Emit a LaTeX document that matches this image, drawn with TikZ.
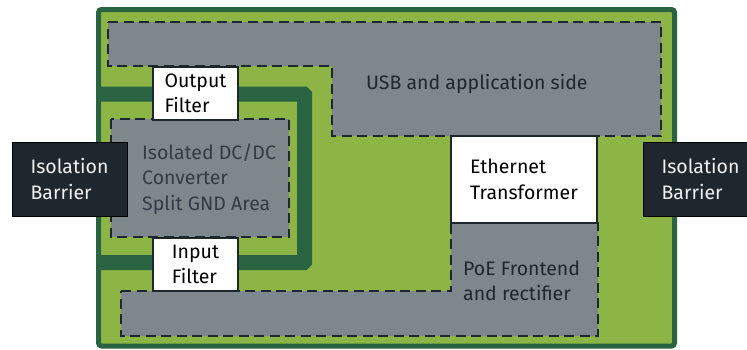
\documentclass[tikz,border=0pt]{standalone}
\usepackage{fontspec}
\setmainfont{Fira Sans}
\usetikzlibrary{positioning}
\definecolor{boardgreen}{HTML}{8CB545}
\definecolor{tracegreen}{HTML}{2A6341}
\definecolor{areagray}{HTML}{7E878C}
\definecolor{barrierdark}{HTML}{1F272E}
\definecolor{dimtext}{HTML}{333C44}
\tikzset{
  zone/.style={fill=areagray,draw=barrierdark,line width=2.2pt,dash pattern=on 10pt off 5.5pt},
  partbox/.style={fill=white,draw=barrierdark,line width=1.2pt,inner sep=0pt,align=left,text=black},
  barrierbox/.style={fill=barrierdark,draw=black,line width=1pt,inner sep=0pt,align=left,
    minimum width=115pt,minimum height=74pt,text=white!88!gray},
  zonetext/.style={inner sep=0pt,align=left}
}

\begin{document}
\begin{tikzpicture}[x=1pt,y=-1pt,font=\fontsize{19.5}{25.5}\selectfont]
    \clip (0,0) rectangle (747,349);
    % board and split ground trace
    \draw[fill=boardgreen,draw=tracegreen,line width=5pt,rounded corners=3pt] (98.5,9.5) rectangle (674.5,346);
    \draw[tracegreen,line width=15pt,rounded corners=1pt] (98,94) -- (304.5,94) -- (304.5,262.5) -- (98,262.5);
    % areas
    \draw[zone] (108,22) -- (661,22) -- (661,136) -- (332,136) -- (332,66) -- (108,66) -- cycle;
    \draw[zone] (111,119) rectangle (289,237);
    \draw[zone] (121,291) -- (451,291) -- (451,223) -- (598,223) -- (598,336) -- (121,336) -- cycle;
    \node[zonetext,anchor=base west,text=barrierdark] (usb) at (366,89) {USB and application side};
    \node[zonetext,anchor=west,text=dimtext] (dcdc) at (142,179) {Isolated DC/DC\\Converter\\Split GND Area};
    \node[zonetext,anchor=west,text=barrierdark] (poe) at (463,281) {PoE Frontend\\and rectifier};
    % parts
    \node[partbox,minimum width=85pt,minimum height=53pt] (outfilter) at (195.5,93.5) {Output\\Filter};
    \node[partbox,minimum width=85pt,minimum height=53pt] (infilter) at (195.5,264.5) {Input\\Filter};
    \node[partbox,minimum width=146pt,minimum height=87pt] (ethtrafo) at (524,179.5) {Ethernet\\Transformer};
    \foreach \side/\xc in {left/69.5,right/700.5}
    \node[barrierbox] (barrier-\side) at (\xc,179) {Isolation\\Barrier};
\end{tikzpicture}
\end{document}
